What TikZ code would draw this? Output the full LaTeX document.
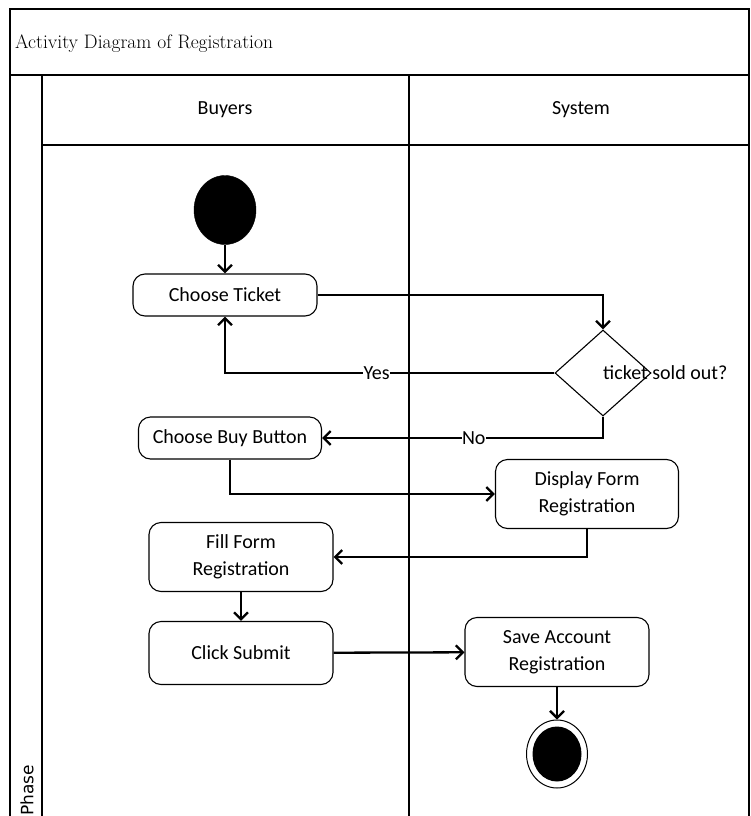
\documentclass[tikz,border=0pt]{standalone}
\usepackage{fontspec}
\usepackage{tikz}
\usetikzlibrary{shapes.geometric,arrows.meta}
\newfontfamily\carlito{Carlito}
\newfontfamily\dejavu{DejaVu Sans}
\tikzstyle{activityNode}=[shape = rectangle, rounded corners = 12pt, draw, line width = 1.1pt, minimum width = 184pt, minimum height = 42pt, inner sep = 2pt, align = center, font = \carlito\fontsize{20}{27}\selectfont]
\tikzstyle{decisionNode}=[shape = diamond, draw, line width = 1.1pt, minimum width = 96pt, minimum height = 86pt, inner sep = 0pt]
\tikzstyle{startNode}=[shape = ellipse, fill = black, draw, minimum width = 62pt, minimum height = 69pt, inner sep = 0pt]
\tikzstyle{endNode}=[shape = ellipse, draw, line width = 1pt, minimum width = 61pt, minimum height = 68pt, inner sep = 0pt]
\tikzstyle{endDot}=[shape = ellipse, fill = black, minimum width = 49pt, minimum height = 55pt, inner sep = 0pt]
\tikzstyle{plainText}=[inner sep = 0pt, font = \carlito\fontsize{20}{27}\selectfont]
\tikzstyle{edgeLabel}=[fill = white, inner sep = 0.5pt, font = \carlito\fontsize{20}{27}\selectfont]
\tikzstyle{flow}=[-{Straight Barb[length=7pt,width=14pt]}, line width = 2.3pt]
\tikzstyle{laneLine}=[line width = 1.3pt]

\begin{document}
\begin{tikzpicture}[x = 1pt, y = -1pt]
\useasboundingbox (0,0) rectangle (750,816);
% swimlane frame
\draw[laneLine] (10,818) -- (10,9) -- (749,9) -- (749,818);
\draw[laneLine] (10,75) -- (749,75);
\draw[laneLine] (42,75) -- (42,818);
\draw[laneLine] (42,145) -- (749,145);
\draw[laneLine] (409,75) -- (409,818);
\node[anchor = west, inner sep = 0pt, font = \fontsize{19.5}{23}\selectfont] (title) at (15,44) {Activity Diagram of Registration};
\node[plainText] (buyers) at (225,110) {Buyers};
\node[plainText] (system) at (581,110) {System};
\node[rotate = 90, anchor = west, inner sep = 0pt, font = \dejavu\fontsize{17}{20}\selectfont] (phase) at (27,816) {Phase};
% activities
\node[startNode] (start) at (225,210) {};
\node[activityNode] (chooseTicket) at (225,295) {Choose Ticket};
\node[decisionNode] (soldOut) at (603,373) {};
\node[plainText, anchor = west] (soldOutText) at (603,373) {ticket sold out?};
\node[activityNode, minimum width = 183pt] (chooseBuy) at (230,438) {Choose Buy Button};
\node[activityNode, minimum width = 183pt, minimum height = 69pt] (displayForm) at (587,494) {Display Form\\Registration};
\node[activityNode, minimum height = 69pt] (fillForm) at (241,557) {Fill Form\\Registration};
\node[activityNode, minimum height = 63pt] (clickSubmit) at (241,653) {Click Submit};
\node[activityNode, minimum height = 69pt] (saveAccount) at (557,652) {Save Account\\Registration};
\node[endNode] (final) at (557,754) {};
\node[endDot] (finalDot) at (final.center) {};
% flows
\draw[flow] (start) -- (chooseTicket);
\draw[flow] (chooseTicket.east) -| (soldOut.north);
\draw[flow] (soldOut.west) -| node[edgeLabel, pos = 0.27] {Yes} (chooseTicket.south);
\draw[flow] (soldOut.south) |- node[edgeLabel, pos = 0.73] {No} (chooseBuy.east);
\draw[flow] (chooseBuy.south) |- (displayForm.west);
\draw[flow] (displayForm.south) |- (fillForm.east);
\draw[flow] (fillForm) -- (clickSubmit);
\draw[flow] (clickSubmit) -- (saveAccount);
\draw[flow] (saveAccount.south) -- (final);
\end{tikzpicture}
\end{document}
